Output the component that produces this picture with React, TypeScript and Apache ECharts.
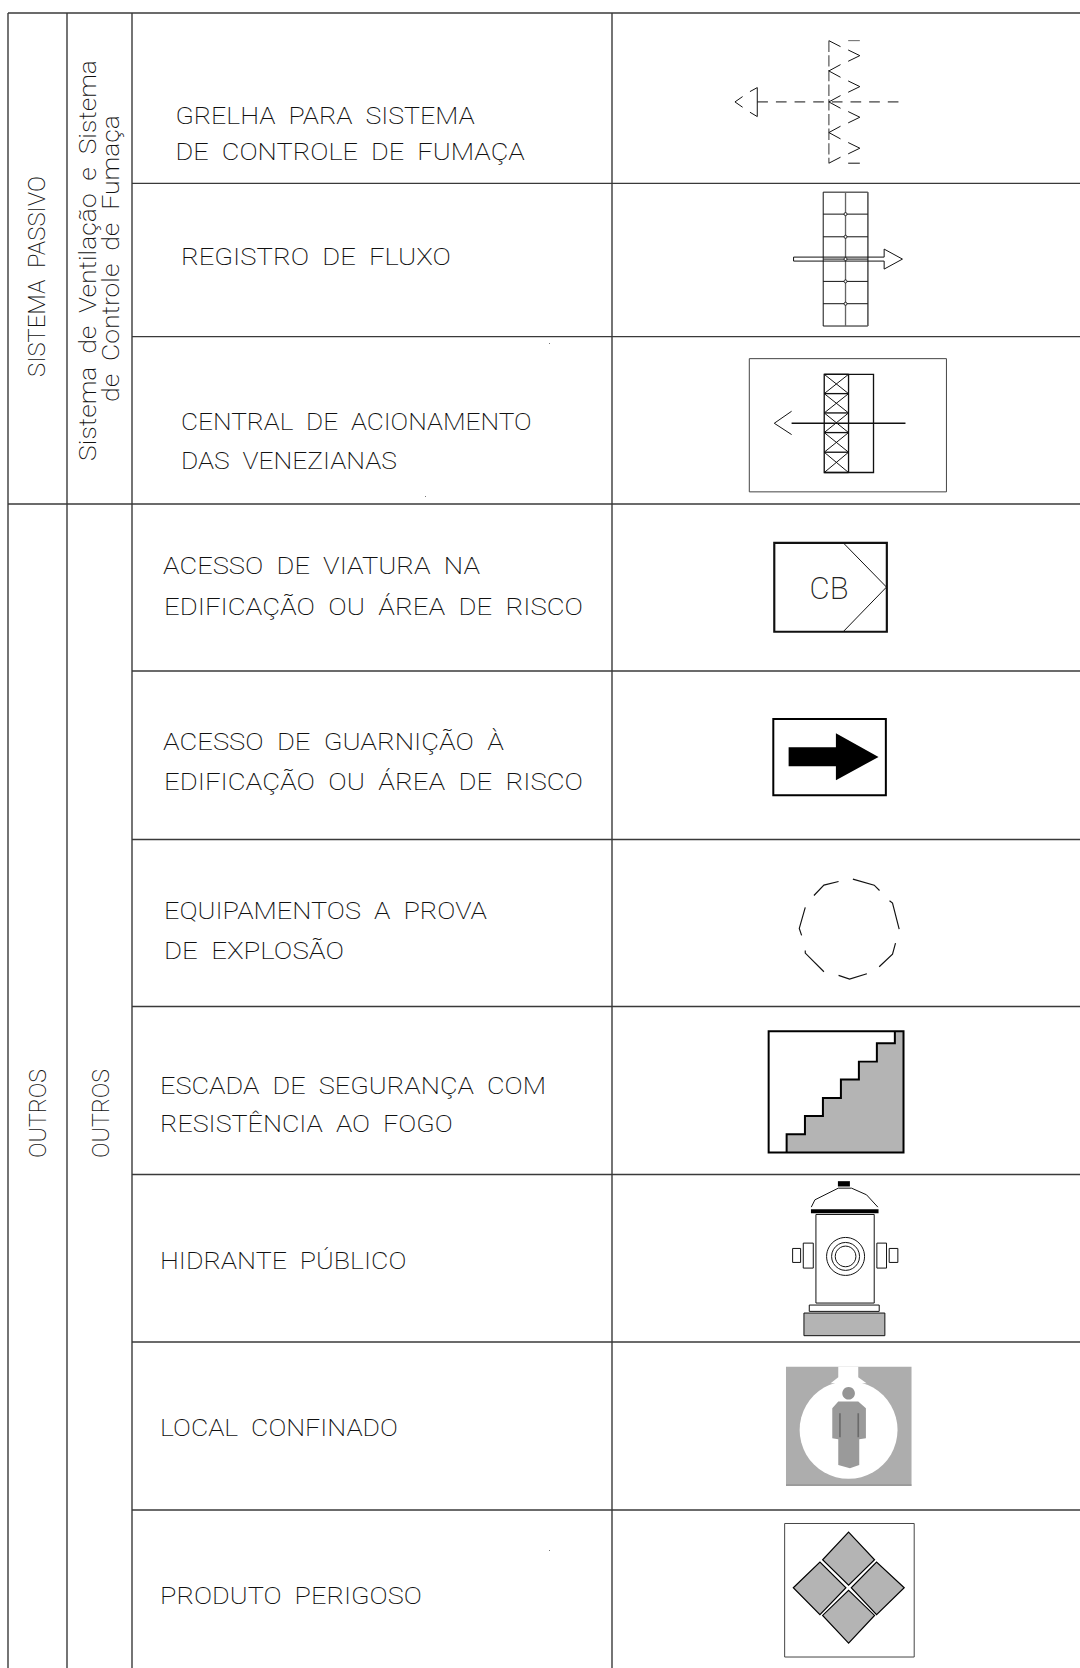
import React, { useEffect, useRef } from "react";
import * as echarts from "echarts";

const sectionLabels = ["SISTEMA  PASSIVO", "OUTROS"];
const groupLabels = ["Sistema  de  Ventilação  e  Sistema", "de  Controle  de  Fumaça", "OUTROS"];
const itemLines = [
  "GRELHA  PARA  SISTEMA",
  "DE  CONTROLE  DE  FUMAÇA",
  "REGISTRO  DE  FLUXO",
  "CENTRAL  DE  ACIONAMENTO",
  "DAS  VENEZIANAS",
  "ACESSO  DE  VIATURA  NA",
  "EDIFICAÇÃO  OU  ÁREA  DE  RISCO",
  "ACESSO  DE  GUARNIÇÃO  À",
  "EDIFICAÇÃO  OU  ÁREA  DE  RISCO",
  "EQUIPAMENTOS  A  PROVA",
  "DE  EXPLOSÃO",
  "ESCADA  DE  SEGURANÇA  COM",
  "RESISTÊNCIA  AO  FOGO",
  "HIDRANTE  PÚBLICO",
  "LOCAL  CONFINADO",
  "PRODUTO  PERIGOSO",
];
const symbolLabel = "CB";

const FONT = "200 24.5px Roboto";
const INK = "#111";
const GRID = "#3a3a3a";
const GREY = "#b4b4b4";

const ctx = document.createElement("canvas").getContext("2d")!;
function fit(text: string, font: string, target: number) {
  ctx.font = font;
  return target / ctx.measureText(text).width;
}
function hText(text: string, x: number, y: number, right: number, font = FONT) {
  return {
    type: "text", x, y, scaleX: fit(text, font, right - x),
    style: { text, font, fill: INK, align: "left", verticalAlign: "middle" },
  };
}
function vText(text: string, x: number, top: number, bottom: number, font = FONT) {
  return {
    type: "text", x, y: (top + bottom) / 2, rotation: Math.PI / 2, scaleX: fit(text, font, bottom - top),
    style: { text, font, fill: INK, align: "center", verticalAlign: "middle" },
  };
}
function seg(x1: number, y1: number, x2: number, y2: number, stroke = INK, lineWidth = 3, lineDash?: number[]) {
  return { type: "line", shape: { x1, y1, x2, y2 }, style: { stroke, lineWidth, lineDash } };
}
function poly(points: number[][], stroke = INK, lineWidth = 3) {
  return { type: "polyline", shape: { points }, style: { stroke, lineWidth, fill: "none" } };
}
function gon(points: number[][], fill: string, stroke: string | null = INK, lineWidth = 3) {
  return { type: "polygon", shape: { points }, style: { fill, stroke: stroke ?? "none", lineWidth } };
}
function box(x1: number, y1: number, x2: number, y2: number, fill = "none", stroke = INK, lineWidth = 3) {
  return { type: "rect", shape: { x: x1, y: y1, width: x2 - x1, height: y2 - y1 }, style: { fill, stroke, lineWidth } };
}
function ring(cx: number, cy: number, r: number, fill = "none", stroke = INK, lineWidth = 3) {
  return { type: "circle", shape: { cx, cy, r }, style: { fill, stroke, lineWidth } };
}
// Zoomed drawing space: one unit is a third of a page pixel.
function sketch(x: number, y: number, children: any[]) {
  return { type: "group", x, y, scaleX: 1 / 3, scaleY: 1 / 3, children };
}

function gridLines() {
  const out: any[] = [];
  const full = [13, 504];
  const inner = [183.4, 336.6, 671, 839.5, 1006.5, 1174.5, 1342, 1510];
  full.forEach((y) => out.push(seg(8, y, 1080, y, GRID, 1.4)));
  inner.forEach((y) => out.push(seg(132, y, 1080, y, GRID, 1.4)));
  [8, 67, 132, 612].forEach((x) => out.push(seg(x, 13, x, 1668, GRID, 1.4)));
  return out;
}

function grelha() {
  const c: any[] = [
    seg(387, 62, 387, 430, "#666", 4, [34, 10]),
    seg(445, 62, 480, 62, "#666", 3),
    seg(445, 430, 480, 430, INK, 3),
    seg(172, 246, 603, 246, INK, 3, [32, 24]),
    poly([[128, 230], [105, 246], [128, 262]]),
    poly([[150, 215], [172, 203], [172, 290], [150, 277]]),
    seg(387, 62, 422, 80),
    seg(387, 430, 422, 412),
  ];
  [153, 246, 338].forEach((y) => c.push(poly([[422, y - 19], [387, y], [422, y + 19]])));
  [107, 200, 292, 385].forEach((y) => c.push(poly([[445, y - 17], [480, y], [445, y + 17]])));
  return sketch(700, 20, c);
}

function registro() {
  const c: any[] = [box(370, 517, 504, 919), seg(437, 517, 437, 919, "#666", 4), seg(504, 517, 504, 919, "#666", 4)];
  [583, 651, 785, 852, 718].forEach((y) => c.push(seg(370, y, 504, y)));
  c.push(poly([[281, 712], [553, 712], [553, 688], [608, 718], [553, 748], [553, 724], [281, 724], [281, 712]]));
  [583, 651, 718, 785, 852].forEach((y) => c.push(ring(437, y, 4.5, "#fff", INK, 3)));
  return sketch(700, 20, c);
}

function central() {
  const c: any[] = [box(88, 56, 680, 456, "none", "#444", 3), box(313, 103, 461, 398, "none", INK, 4), seg(386, 103, 386, 398, INK, 4)];
  const ys = [103, 161, 219, 278, 337, 398];
  ys.forEach((y, i) => {
    c.push(seg(313, y, 386, y, INK, 4));
    if (i < ys.length - 1) {
      c.push(seg(313, y, 386, ys[i + 1]));
      c.push(seg(386, y, 313, ys[i + 1]));
    }
  });
  c.push(seg(215, 250, 557, 250, INK, 4), poly([[215, 214], [163, 250], [215, 284]]));
  return sketch(720, 340, c);
}

function viatura() {
  return sketch(720, 340, [
    box(163, 609, 501, 876, "none", INK, 6.5),
    poly([[370, 609], [500, 742], [370, 876]], INK, 3),
  ]);
}

function guarnicao() {
  return sketch(740, 700, [
    box(100, 57, 438, 286, "none", "#000", 6),
    gon([[146, 142], [288, 142], [288, 100], [416, 171], [288, 241], [288, 199], [146, 199]], "#000", null),
  ]);
}

function explosao() {
  const arcs = [
    [[222, 587], [252, 556], [296, 545]],
    [[339, 538], [403, 556], [419, 572]],
    [[449, 603], [458, 610], [478, 688]],
    [[467, 730], [458, 763], [418, 801]],
    [[381, 822], [329, 838], [296, 827]],
    [[252, 816], [196, 760], [196, 752]],
    [[185, 707], [178, 686], [196, 623]],
  ];
  return sketch(740, 700, arcs.map((a) => poly(a, "#111", 3.5)));
}

function escada() {
  const steps = [[110, 398], [110, 343], [165, 343], [165, 288], [219, 288], [219, 234], [273, 234], [273, 179], [327, 179], [327, 125], [381, 125], [381, 70], [435, 70], [435, 34]];
  return sketch(750, 1020, [
    gon([...steps, [461, 34], [461, 398]], GREY, null),
    box(56, 34, 461, 398, "none", "#000", 6),
    poly(steps, "#000", 6),
  ]);
}

function hidrante() {
  return sketch(750, 1020, [
    box(264, 484, 300, 500, "#000", "none", 0),
    poly([[184, 562], [195, 540], [265, 505], [305, 505], [350, 525], [384, 562]]),
    box(183, 568, 386, 580, "#000", "none", 0),
    box(198, 584, 373, 850),
    box(160, 670, 190, 745),
    box(128, 686, 152, 728),
    box(381, 670, 410, 745),
    box(418, 686, 444, 728),
    ring(287, 710, 57),
    ring(287, 710, 42),
    ring(287, 710, 31),
    box(178, 856, 388, 875),
    box(162, 880, 405, 948, GREY, INK, 3),
  ]);
}

function confinado() {
  return sketch(770, 1350, [
    box(48, 50, 425, 408, "#adadad", "none", 0),
    ring(236, 240, 147, "#fff", "none", 0),
    gon([[205, 50], [265, 50], [265, 82], [290, 100], [182, 100], [205, 82]], "#fff", null),
    ring(236, 130, 19, "#959595", "none", 0),
    gon([[205, 155], [265, 155], [288, 175], [288, 265], [268, 268], [268, 345], [240, 355], [205, 345], [205, 268], [187, 265], [187, 175]], "#9a9a9a", null),
    seg(210, 190, 210, 262, "#6a6a6a", 5),
    seg(265, 190, 265, 262, "#6a6a6a", 5),
    seg(48, 406, 425, 406, "#8c8c8c", 4),
  ]);
}

function perigoso() {
  const diamonds = [
    [[236, 547], [314, 630], [236, 706], [158, 630]],
    [[403, 714], [320, 637], [244, 714], [320, 795]],
    [[236, 880], [158, 797], [236, 722], [314, 797]],
    [[70, 714], [150, 637], [228, 714], [150, 795]],
  ];
  return sketch(770, 1350, [
    box(44, 521, 433, 922, "none", "#444", 3),
    ...diamonds.map((d) => gon(d, GREY, "#000", 3.5)),
  ]);
}

function labels() {
  const out: any[] = [];
  out.push(vText(sectionLabels[0], 37, 176, 377));
  out.push(vText(sectionLabels[1], 38, 1069, 1158));
  out.push(vText(groupLabels[0], 87, 60, 461));
  out.push(vText(groupLabels[1], 110, 115, 402));
  out.push(vText(groupLabels[2], 101, 1069, 1158));
  const layout = [
    [175.5, 115, 475], [175.5, 151.5, 525],
    [181, 257, 451],
    [181, 421, 532], [181, 460, 397],
    [163, 566, 480], [164, 607, 583],
    [163, 742, 504], [164, 782, 583],
    [164, 910, 487], [164, 951, 344],
    [160, 1085.5, 546], [160, 1123.5, 453],
    [160, 1260, 406.5],
    [160, 1427, 398],
    [160, 1595, 422],
  ];
  itemLines.forEach((t, i) => out.push(hText(t, layout[i][0], layout[i][1], layout[i][2])));
  out.push({
    type: "text", x: 829, y: 588,
    style: { text: symbolLabel, font: "200 31px Roboto", fill: "#222", align: "center", verticalAlign: "middle" },
  });
  return out;
}

function specks() {
  return [[549, 343], [425, 496], [549, 1550]].map(([x, y]) => ({
    type: "rect", shape: { x, y, width: 1, height: 1 }, style: { fill: "#777" },
  }));
}

export default function App() {
  const ref = useRef<HTMLDivElement>(null);
  useEffect(() => {
    const chart = echarts.init(ref.current!, undefined, { renderer: "svg" });
    chart.setOption({
      animation: false,
      backgroundColor: "#fff",
      graphic: {
        elements: [
          ...gridLines(), grelha(), registro(), central(), viatura(), guarnicao(), explosao(),
          escada(), hidrante(), confinado(), perigoso(), ...specks(), ...labels(),
        ],
      },
    });
    return () => chart.dispose();
  }, []);
  return <div ref={ref} style={{ position: "absolute", left: 0, top: 0, width: 1080, height: 1668 }} />;
}
